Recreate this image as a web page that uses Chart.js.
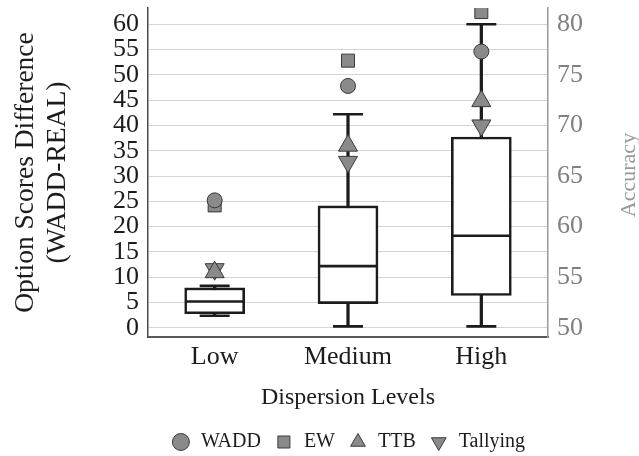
<!DOCTYPE html>
<html>
<head>
<meta charset="utf-8">
<script src="https://cdn.jsdelivr.net/npm/chart.js@4/dist/chart.umd.min.js"></script>
<style>
  html, body { margin: 0; padding: 0; background: #ffffff; }
  #wrap { width: 639px; height: 456px; position: relative; }
</style>
</head>
<body>
<div id="wrap"><canvas id="chart"></canvas></div>
<script>
// Dispersion level categories
const categories = ['Low', 'Medium', 'High'];

// Box plot summary of option score differences (WADD-REAL), left axis
const whiskerLow  = [2.4, 0.3, 0.3];
const boxLower    = [2.8, 4.8, 6.4];
const medians     = [5.2, 12.2, 18.2];
const boxUpper    = [7.9, 24.1, 37.7];
const whiskerHigh = [8.3, 42.2, 60.0];

// Strategy accuracy, right axis
const accWADD     = [62.6, 73.9, 77.3];
const accEW       = [62.1, 76.4, 81.2];
const accTTB      = [55.5, 68.0, 72.4];
const accTallying = [55.8, 66.4, 70.0];

// Axis tick labels
const leftTicks  = [0, 5, 10, 15, 20, 25, 30, 35, 40, 45, 50, 55, 60];
const rightTicks = [50, 55, 60, 65, 70, 75, 80];

const SERIF = "'Liberation Serif', 'Times New Roman', serif";
const INK = '#1c1c1c';
const MARK_FILL = '#8a8a8a';
const MARK_EDGE = '#3a3a3a';

function pairs(lo, hi) { return lo.map((v, i) => [v, hi[i]]); }

function marker(label, data, style, radius, rotation, order) {
  return {
    type: 'line', label, data, yAxisID: 'y2', showLine: false, order,
    pointStyle: style, pointRadius: radius, pointRotation: rotation,
    pointBackgroundColor: MARK_FILL, pointBorderColor: MARK_EDGE, pointBorderWidth: 1,
    backgroundColor: MARK_FILL, borderColor: MARK_EDGE, borderWidth: 1
  };
}

function tickLine(data, radius, order) {
  return {
    type: 'line', label: '_tick', data, yAxisID: 'y', showLine: false, order,
    pointStyle: 'line', pointRadius: radius, pointBorderColor: INK, pointBorderWidth: 2.6,
    borderColor: INK
  };
}

// Keep the plot area exactly where the axes put it (no label overflow padding)
function noOverflow(s) {
  s.paddingTop = 0; s.paddingBottom = 0; s.paddingLeft = 0; s.paddingRight = 0;
}

// Centre the legend row under the plot area and drop it slightly
const legendPlacement = {
  id: 'legendPlacement',
  afterLayout(chart) {
    const lg = chart.legend, area = chart.chartArea;
    if (!lg) return;
    lg.left = area.left; lg.right = area.right;
    lg.top += 6; lg.bottom += 6;
  }
};

// Rotated right-hand axis title, reading bottom to top
const accuracyTitle = {
  id: 'accuracyTitle',
  afterDraw(chart) {
    const { ctx } = chart;
    ctx.save();
    ctx.translate(629, 175);
    ctx.rotate(-Math.PI / 2);
    ctx.font = '22px ' + SERIF;
    ctx.fillStyle = '#999999';
    ctx.textAlign = 'center';
    ctx.textBaseline = 'middle';
    ctx.fillText('Accuracy', 0, 0);
    ctx.restore();
  }
};

new Chart(document.getElementById('chart'), {
  type: 'bar',
  data: {
    labels: categories,
    datasets: [
      marker('WADD', accWADD, 'circle', 7.5, 0, 0),
      marker('EW', accEW, 'rect', 9.2, 0, 1),
      marker('TTB', accTTB, 'triangle', 11, 0, 2),
      marker('Tallying', accTallying, 'triangle', 11, 180, 3),
      tickLine(medians, 29, 4),
      tickLine(whiskerHigh, 15, 5),
      tickLine(whiskerLow, 15, 6),
      {
        label: '_box', data: pairs(boxLower, boxUpper), yAxisID: 'y', order: 7,
        grouped: false, barThickness: 60, backgroundColor: '#ffffff',
        borderColor: INK, borderWidth: 2.6, borderSkipped: false
      },
      {
        label: '_whisker', data: pairs(whiskerLow, whiskerHigh), yAxisID: 'y', order: 8,
        grouped: false, barThickness: 2.6, backgroundColor: INK, borderWidth: 0
      }
    ]
  },
  options: {
    responsive: true,
    maintainAspectRatio: false,
    animation: false,
    layout: { autoPadding: false, padding: { top: 8, left: 0, right: 0, bottom: 0 } },
    plugins: {
      tooltip: { enabled: false },
      legend: {
        position: 'bottom',
        labels: {
          usePointStyle: true,
          boxHeight: 12,
          padding: 13,
          color: INK,
          font: { family: SERIF, size: 20 },
          filter: item => !item.text.startsWith('_')
        }
      }
    },
    scales: {
      x: {
        grid: { display: false, drawTicks: false },
        border: { display: true, color: '#5a5a5a', width: 2 },
        ticks: { color: INK, padding: 5, font: { family: SERIF, size: 26 } },
        title: {
          display: true, text: 'Dispersion Levels', color: INK,
          font: { family: SERIF, size: 24 }, padding: { top: 0, bottom: 1 }
        },
        afterFit(s) { s.height = 76; noOverflow(s); }
      },
      y: {
        position: 'left',
        min: -1.8, max: 63.2,
        afterBuildTicks(s) { s.ticks = leftTicks.map(v => ({ value: v })); },
        grid: { color: '#d4d4d4', lineWidth: 1, drawTicks: false },
        border: { display: true, color: '#4a4a4a', width: 1.5 },
        ticks: { color: INK, padding: 9, autoSkip: false, font: { family: SERIF, size: 26 } },
        title: {
          display: true, text: ['Option Scores Difference', '(WADD-REAL)'], color: INK,
          font: { family: SERIF, size: 27.5, lineHeight: 1.16 }, padding: { top: 10, bottom: 0 }
        },
        afterFit(s) { s.width = 148; noOverflow(s); }
      },
      y2: {
        position: 'right',
        min: 49.1, max: 81.6,
        afterBuildTicks(s) { s.ticks = rightTicks.map(v => ({ value: v })); },
        grid: { drawOnChartArea: false, drawTicks: false },
        border: { display: true, color: '#9a9a9a', width: 1.5 },
        ticks: { color: '#808080', padding: 9, autoSkip: false, font: { family: SERIF, size: 26 } },
        afterFit(s) { s.width = 91; noOverflow(s); }
      }
    }
  },
  plugins: [legendPlacement, accuracyTitle]
});
</script>
</body>
</html>
